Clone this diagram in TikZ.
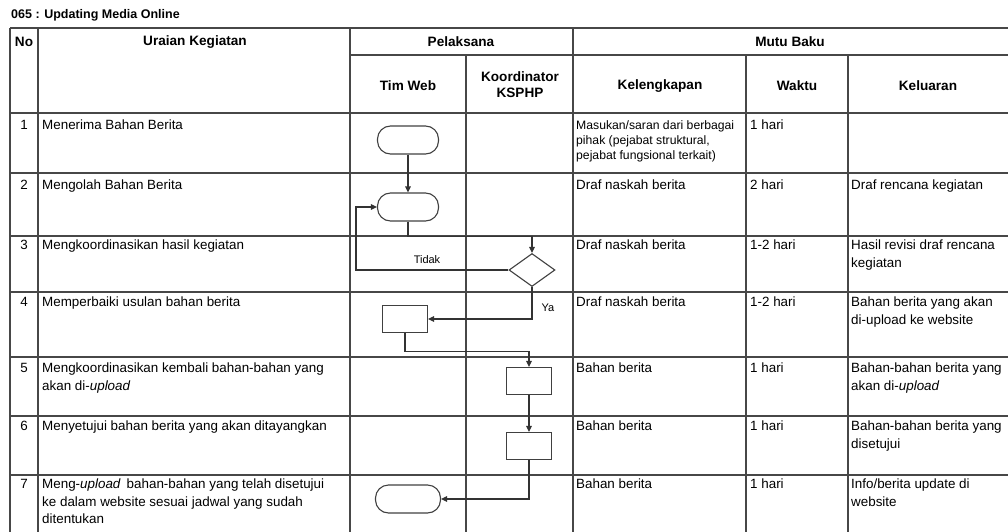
\documentclass[tikz,border=0pt]{standalone}
\usepackage{fontspec}
\setmainfont{Liberation Sans}
\usetikzlibrary{shapes.geometric,arrows.meta}

\begin{document}
\begin{tikzpicture}[x=1pt,y=-1pt,>={Triangle[length=6pt,width=5.5pt]},
        table line/.style={draw=black!72,line width=1.8pt},
        flow line/.style={->,draw=black!80,line width=1.1pt},
        cell text/.style={anchor=north west,align=left,inner sep=0pt,font=\fontsize{13.4}{17.5}\selectfont},
        small text/.style={anchor=north west,align=left,inner sep=0pt,font=\fontsize{12.2}{15}\selectfont},
        head text/.style={align=center,inner sep=0pt,font=\fontsize{13.6}{16}\selectfont\bfseries},
        terminal node/.style={draw=black!75,line width=1.1pt,rectangle,rounded corners=13pt,minimum width=61pt,minimum height=28pt,inner sep=0pt},
        process node/.style={draw=black!75,line width=1.1pt,rectangle,minimum width=45pt,minimum height=27pt,inner sep=0pt},
        decision node/.style={draw=black!75,line width=1.1pt,diamond,minimum width=46pt,minimum height=33pt,inner sep=0pt}]

    \useasboundingbox (0,0) rectangle (1008,532);

    \node[anchor=west,inner sep=0pt,font=\fontsize{12.5}{14}\selectfont\bfseries] (title) at (11,15) {065 : Updating Media Online};

    % table grid
    \draw[table line] (10,28) -- (1008,28);
    \draw[table line] (350,55) -- (1008,55);
    \draw[table line] (10,113) -- (1008,113);
    \draw[table line] (10,173) -- (1008,173);
    \draw[table line] (10,236) -- (1008,236);
    \draw[table line] (10,292) -- (1008,292);
    \draw[table line] (10,357) -- (1008,357);
    \draw[table line] (10,416) -- (1008,416);
    \draw[table line] (10,475) -- (1008,475);
    \draw[table line] (10,28) -- (10,532);
    \draw[table line] (38,28) -- (38,532);
    \draw[table line] (350,28) -- (350,532);
    \draw[table line] (573,28) -- (573,532);
    \draw[table line] (466,55) -- (466,532);
    \draw[table line] (746,55) -- (746,532);
    \draw[table line] (848,55) -- (848,532);

    % header
    \node[head text] (no) at (24,42) {No};
    \node[head text] (uraian) at (195,42) {Uraian Kegiatan};
    \node[head text] (pelaksana) at (461,42) {Pelaksana};
    \node[head text] (mutu) at (790,42) {Mutu Baku};
    \node[head text] (timweb) at (408,86) {Tim Web};
    \node[head text] (koord) at (520,85) {Koordinator\\KSPHP};
    \node[head text] (lengkap) at (660,86) {Kelengkapan};
    \node[head text] (waktu) at (797,86) {Waktu};
    \node[head text] (keluaran) at (928,86) {Keluaran};

    % row numbers
    \node[head text,font=\fontsize{13.4}{16}\selectfont] (n1) at (24,125) {1};
    \node[head text,font=\fontsize{13.4}{16}\selectfont] (n2) at (24,185) {2};
    \node[head text,font=\fontsize{13.4}{16}\selectfont] (n3) at (24,245) {3};
    \node[head text,font=\fontsize{13.4}{16}\selectfont] (n4) at (24,302) {4};
    \node[head text,font=\fontsize{13.4}{16}\selectfont] (n5) at (24,368) {5};
    \node[head text,font=\fontsize{13.4}{16}\selectfont] (n6) at (24,426) {6};
    \node[head text,font=\fontsize{13.4}{16}\selectfont] (n7) at (24,484) {7};

    % uraian kegiatan
    \node[cell text] (u1) at (42,120) {Menerima Bahan Berita};
    \node[cell text] (u2) at (42,180) {Mengolah Bahan Berita};
    \node[cell text] (u3) at (42,240) {Mengkoordinasikan hasil kegiatan};
    \node[cell text] (u4) at (42,297) {Memperbaiki usulan bahan berita};
    \node[cell text] (u5) at (42,363) {Mengkoordinasikan kembali bahan-bahan yang\\akan di-\textit{upload}};
    \node[cell text] (u6) at (42,421) {Menyetujui bahan berita yang akan ditayangkan};
    \node[cell text] (u7) at (42,479) {Meng-\textit{upload}\, bahan-bahan yang telah disetujui\\ke dalam website sesuai jadwal yang sudah\\ditentukan};

    % kelengkapan
    \node[small text] (k1) at (576,120) {Masukan/saran dari berbagai\\pihak (pejabat struktural,\\pejabat fungsional terkait)};
    \node[cell text] (k2) at (576,180) {Draf naskah berita};
    \node[cell text] (k3) at (576,240) {Draf naskah berita};
    \node[cell text] (k4) at (576,297) {Draf naskah berita};
    \node[cell text] (k5) at (576,363) {Bahan berita};
    \node[cell text] (k6) at (576,421) {Bahan berita};
    \node[cell text] (k7) at (576,479) {Bahan berita};

    % waktu
    \node[cell text] (w1) at (750,120) {1 hari};
    \node[cell text] (w2) at (750,180) {2 hari};
    \node[cell text] (w3) at (750,240) {1-2 hari};
    \node[cell text] (w4) at (750,297) {1-2 hari};
    \node[cell text] (w5) at (750,363) {1 hari};
    \node[cell text] (w6) at (750,421) {1 hari};
    \node[cell text] (w7) at (750,479) {1 hari};

    % keluaran
    \node[cell text] (o2) at (851,180) {Draf rencana kegiatan};
    \node[cell text] (o3) at (851,240) {Hasil revisi draf rencana\\kegiatan};
    \node[cell text] (o4) at (851,297) {Bahan berita yang akan\\di-upload ke website};
    \node[cell text] (o5) at (851,363) {Bahan-bahan berita yang\\akan di-\textit{upload}};
    \node[cell text] (o6) at (851,421) {Bahan-bahan berita yang\\disetujui};
    \node[cell text] (o7) at (851,479) {Info/berita update di\\website};

    % flowchart
    \node[terminal node] (t1) at (408,140) {};
    \node[terminal node] (t2) at (408,207) {};
    \node[decision node] (d3) at (532,270) {};
    \node[process node] (p4) at (405,319) {};
    \node[process node] (p5) at (529,381) {};
    \node[process node] (p6) at (529,446) {};
    \node[terminal node,minimum width=65pt] (t7) at (408,499) {};
    \coordinate (back) at (356,269);

    \node[font=\fontsize{11}{13}\selectfont,inner sep=0pt] (tidak) at (427,260) {Tidak};
    \node[font=\fontsize{11}{13}\selectfont,inner sep=0pt] (ya) at (548,308) {Ya};

    \draw[flow line] (t1) -- (t2);
    \draw[flow line] (t2.south) -- ++(0,15) -| (d3.north);
    \draw[flow line] (d3.west) -- (d3.west -| back) |- (t2.west);
    \draw[flow line] (d3.south) |- (p4.east);
    \draw[flow line] (p4.south) -- ++(0,18) -| (p5.north);
    \draw[flow line] (p5) -- (p6);
    \draw[flow line] (p6.south) |- (t7.east);

\end{tikzpicture}
\end{document}
